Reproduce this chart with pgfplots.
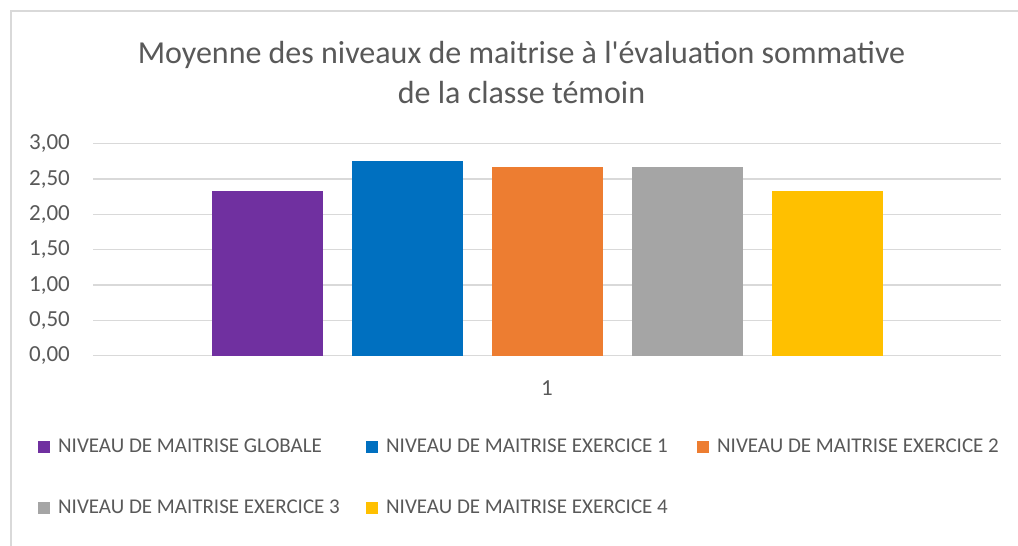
\documentclass[border=0pt]{standalone}
\usepackage{fontspec}
\setmainfont{Carlito}
\newfontfamily\plainfont{Carlito}
\usepackage{pgfplots}
\pgfplotsset{compat=1.18}
\definecolor{cPurple}{HTML}{7030A0}
\definecolor{cBlue}{HTML}{0070C0}
\definecolor{cOrange}{HTML}{ED7D31}
\definecolor{cGray}{HTML}{A5A5A5}
\definecolor{cYellow}{HTML}{FFC000}
\definecolor{cText}{HTML}{595959}
\definecolor{cGrid}{HTML}{D9D9D9}
\begin{document}
\begin{tikzpicture}[x=1pt,y=1pt]
\useasboundingbox (0,0) rectangle (1018,-546);
\fill[white] (0,0) rectangle (1018,-546);
\draw[color=cGrid, line width=1.3pt] (11,-546) -- (11,-11) -- (1018,-11);
\node[font=\plainfont\fontsize{32}{40}\selectfont, text=cText, align=center] at (521.5,-73) {Moyenne des niveaux de maitrise à l'évaluation sommative\\de la classe témoin};
\begin{axis}[
  at={(93pt,-355.7pt)}, anchor=south west,
  scale only axis, width=908pt, height=212pt,
  xmin=0, xmax=2, ymin=0, ymax=3,
  ybar=29pt, bar width=111pt,
  xtick={1}, xticklabels={1},
  ytick={0,0.5,1,1.5,2,2.5,3},
  ymajorgrids, major grid style={draw=cGrid, line width=1.4pt},
  axis line style={draw=none},
  major tick length=0pt,
  /pgf/number format/assume math mode=true,
  yticklabel={\pgfmathprintnumber[fixed,fixed zerofill,precision=2,use comma,1000 sep={}]{\tick}},
  yticklabel style={font=\fontsize{23}{27}\selectfont, text=cText, anchor=east, inner sep=0pt, xshift=-23pt},
  xticklabel style={font=\fontsize{23}{27}\selectfont, text=cText, yshift=-21pt},
  legend columns=3,
  legend style={at={(axis description cs:-0.0606,-0.383)}, anchor=north west, draw=none, fill=none,
    font=\fontsize{21}{25}\selectfont, text=cText, row sep=42pt, inner sep=0pt,
    /tikz/every odd column/.append style={column sep=6pt}},
  legend cell align=left,
  legend image code/.code={\fill[#1] (0pt,-6pt) rectangle (12pt,6pt);},
]
\addplot[fill=cPurple, draw=none] coordinates {(1,2.33)};
\addlegendentry{\makebox[306pt][l]{NIVEAU DE MAITRISE GLOBALE}}
\addplot[fill=cBlue, draw=none] coordinates {(1,2.75)};
\addlegendentry{\makebox[309pt][l]{NIVEAU DE MAITRISE EXERCICE 1}}
\addplot[fill=cOrange, draw=none] coordinates {(1,2.67)};
\addlegendentry{NIVEAU DE MAITRISE EXERCICE 2}
\addplot[fill=cGray, draw=none] coordinates {(1,2.67)};
\addlegendentry{\makebox[306pt][l]{NIVEAU DE MAITRISE EXERCICE 3}}
\addplot[fill=cYellow, draw=none] coordinates {(1,2.33)};
\addlegendentry{\makebox[309pt][l]{NIVEAU DE MAITRISE EXERCICE 4}}
\end{axis}
\end{tikzpicture}
\end{document}
